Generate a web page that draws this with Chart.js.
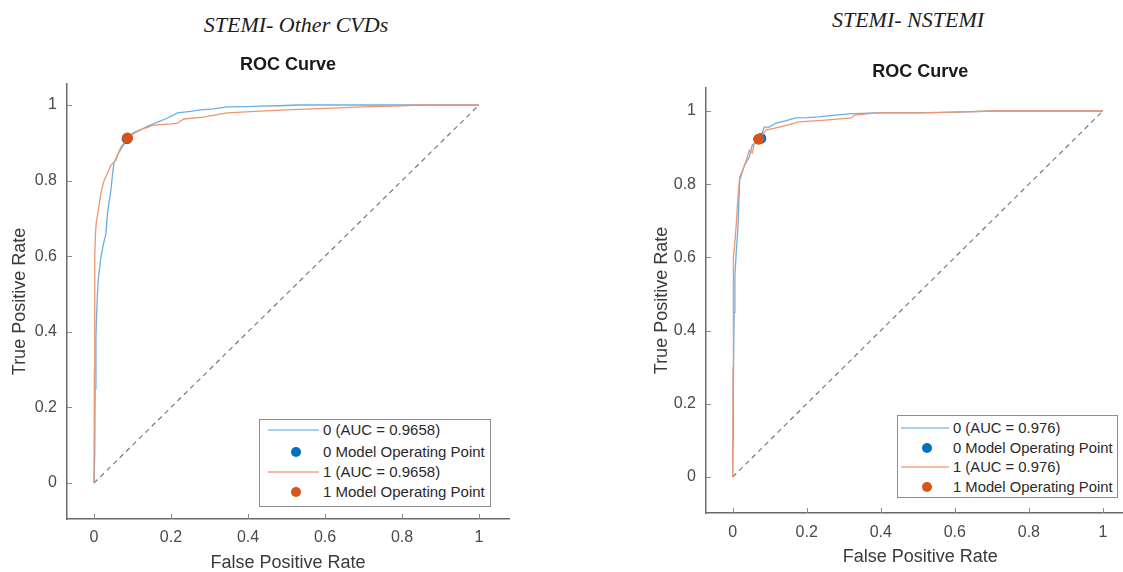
<!DOCTYPE html>
<html>
<head>
<meta charset="utf-8">
<script src="https://cdn.jsdelivr.net/npm/chart.js@4.4.1/dist/chart.umd.min.js"></script>
<style>
html,body{margin:0;padding:0;background:#fff;width:1123px;height:572px;overflow:hidden;}
body{position:relative;font-family:"Liberation Sans",Arial,sans-serif;}
canvas{position:absolute;top:0;}
.heading{position:absolute;width:400px;text-align:center;font-family:"Liberation Serif","Times New Roman",serif;font-style:italic;font-size:22px;line-height:26px;color:#1c1c24;white-space:nowrap;}
.legend{position:absolute;box-sizing:border-box;border:1px solid #8e8e8e;background:#fff;}
.legend .txt{position:absolute;white-space:nowrap;color:#2a2a2a;font-family:"Liberation Sans",Arial,sans-serif;}
.legend .ln{position:absolute;height:2px;}
.legend .dot{position:absolute;border-radius:50%;}
</style>
</head>
<body>
<div id="hA" class="heading"></div>
<div id="hB" class="heading"></div>
<canvas id="cA" width="560" height="572" style="left:0px"></canvas>
<canvas id="cB" width="500" height="572" style="left:640px"></canvas>
<div id="lgA" class="legend"></div>
<div id="lgB" class="legend"></div>
<script>
// ---------------- data ----------------
const CLASS_NAMES = ['0', '1'];
const TICK_VALUES = [0, 0.2, 0.4, 0.6, 0.8, 1];
const TICK_LABELS = ['0', '0.2', '0.4', '0.6', '0.8', '1'];
const DIAG_X = [0, 1];
const DIAG_Y = [0, 1];
const SUBTITLE = 'ROC Curve';
const X_LABEL = 'False Positive Rate';
const Y_LABEL = 'True Positive Rate';
const OP_LABEL = 'Model Operating Point';

// Panel A: STEMI- Other CVDs
const A_HEADING = 'STEMI- Other CVDs';
const A_AUC = ['0.9658', '0.9658'];
const A0_FPR = [0, 0.002, 0.003, 0.005, 0.005, 0.007, 0.009, 0.011, 0.018, 0.024, 0.031, 0.035, 0.044, 0.048, 0.052, 0.061, 0.074, 0.087, 0.10, 0.12, 0.14, 0.165, 0.19, 0.217, 0.25, 0.277, 0.31, 0.346, 0.40, 0.43, 0.48, 0.53, 1];
const A0_TPR = [0, 0.08, 0.25, 0.25, 0.386, 0.45, 0.50, 0.537, 0.598, 0.63, 0.66, 0.714, 0.775, 0.815, 0.847, 0.868, 0.89, 0.907, 0.925, 0.934, 0.944, 0.955, 0.965, 0.979, 0.983, 0.987, 0.990, 0.995, 0.996, 0.997, 0.998, 1, 1];
const A1_FPR = [0, 0.001, 0.002, 0.004, 0.006, 0.010, 0.014, 0.018, 0.026, 0.035, 0.044, 0.057, 0.062, 0.070, 0.087, 0.10, 0.12, 0.155, 0.20, 0.217, 0.233, 0.284, 0.346, 0.43, 0.50, 0.60, 0.70, 0.80, 0.85, 1];
const A1_TPR = [0, 0.30, 0.60, 0.661, 0.69, 0.714, 0.74, 0.767, 0.80, 0.82, 0.841, 0.854, 0.87, 0.889, 0.913, 0.922, 0.934, 0.947, 0.950, 0.952, 0.963, 0.968, 0.979, 0.984, 0.987, 0.991, 0.995, 0.998, 1, 1];
const A_OP_FPR = [0.086, 0.087];
const A_OP_TPR = [0.911, 0.913];

// Panel B: STEMI- NSTEMI
const B_HEADING = 'STEMI- NSTEMI';
const B_AUC = ['0.976', '0.976'];
const B0_FPR = [0, 0.001, 0.002, 0.004, 0.006, 0.010, 0.014, 0.019, 0.025, 0.032, 0.045, 0.053, 0.065, 0.075, 0.085, 0.099, 0.117, 0.14, 0.17, 0.20, 0.232, 0.27, 0.312, 0.384, 0.50, 0.60, 0.71, 1];
const B0_TPR = [0, 0.10, 0.27, 0.45, 0.55, 0.62, 0.675, 0.811, 0.83, 0.852, 0.874, 0.907, 0.915, 0.926, 0.956, 0.956, 0.967, 0.972, 0.981, 0.982, 0.984, 0.988, 0.992, 0.995, 0.995, 0.997, 1, 1];
const B1_FPR = [0, 0.001, 0.002, 0.005, 0.010, 0.014, 0.019, 0.028, 0.037, 0.045, 0.053, 0.059, 0.070, 0.075, 0.09, 0.117, 0.15, 0.179, 0.25, 0.32, 0.33, 0.39, 0.50, 0.60, 0.70, 1];
const B1_TPR = [0, 0.30, 0.60, 0.628, 0.694, 0.76, 0.82, 0.84, 0.866, 0.893, 0.885, 0.913, 0.923, 0.93, 0.948, 0.954, 0.962, 0.97, 0.975, 0.981, 0.989, 0.995, 0.995, 0.997, 1, 1];
const B_OP_FPR = [0.076, 0.070];
const B_OP_TPR = [0.925, 0.923];

// ---------------- styles / layout ----------------
const SANS = '"Liberation Sans", Arial, sans-serif';
const LINE_COLORS = ['#68afe2', '#f0956f'];
const LEGEND_LINE_COLORS = ['#a6d0ef', '#f6bca4'];
const DOT_COLORS = ['#0072BD', '#D95319'];
const AXIS_COLOR = '#6a6a6a';
const TICK_COLOR = '#4a4a4a';

const LAYOUT_A = {
  canvas: 'cA', heading: 'hA', headX: 296, headY: 25,
  xmin: -0.0701, xmax: 1.0779, ymin: -0.0952, ymax: 1.0556,
  yW: 67, xH: 53, padRight: 51,
  subPad: {top: 54.2, bottom: 8.2},
  yTitlePad: 11, xTitlePad: 0, xTickPad: 9, yTickPad: 10,
  legend: {el: 'lgA', left: 259, top: 419, w: 232, h: 88, rows: [11, 33, 53, 73], line: [8, 59], dotX: 36, textX: 63, font: 15}
};
const LAYOUT_B = {
  canvas: 'cB', heading: 'hB', headX: 908, headY: 20,
  xmin: -0.072, xmax: 1.0853, ymin: -0.0984, ymax: 1.0628,
  yW: 66, xH: 59, padRight: 0,
  subPad: {top: 61.2, bottom: 5.2},
  yTitlePad: 13, xTitlePad: 6, xTickPad: 10, yTickPad: 10,
  legend: {el: 'lgB', left: 897, top: 415, w: 221, h: 83, rows: [13, 33, 52, 72], line: [3, 51], dotX: 29, textX: 55, font: 14.8}
};

const zip = (xs, ys) => xs.map((x, i) => ({x: x, y: ys[i]}));
const labelFor = v => { const i = TICK_VALUES.indexOf(v); return i >= 0 ? TICK_LABELS[i] : ''; };
const zeroPad = s => { s.paddingTop = 0; s.paddingBottom = 0; s.paddingLeft = 0; s.paddingRight = 0; };

const innerTicks = {
  id: 'innerTicks',
  afterDraw(chart) {
    const {ctx, chartArea: a, scales: {x, y}} = chart;
    ctx.save();
    ctx.strokeStyle = '#8a8a8a';
    ctx.lineWidth = 1;
    ctx.beginPath();
    x.ticks.forEach(t => { const px = Math.round(x.getPixelForValue(t.value)) + 0.5; ctx.moveTo(px, a.bottom); ctx.lineTo(px, a.bottom - 5); });
    y.ticks.forEach(t => { const py = Math.round(y.getPixelForValue(t.value)) + 0.5; ctx.moveTo(a.left, py); ctx.lineTo(a.left + 5, py); });
    ctx.stroke();
    ctx.restore();
  }
};

function buildPanel(L, heading, auc, f0, t0, f1, t1, opF, opT) {
  const h = document.getElementById(L.heading);
  h.textContent = heading;
  h.style.left = (L.headX - 200) + 'px';
  h.style.top = (L.headY - 13) + 'px';

  const datasets = [
    {label: 'chance', data: zip(DIAG_X, DIAG_Y), showLine: true, borderColor: '#7a7a7a', borderWidth: 1.2, borderDash: [5, 4], pointRadius: 0, order: 5},
    {label: CLASS_NAMES[0] + ' (AUC = ' + auc[0] + ')', data: zip(f0, t0), showLine: true, borderColor: LINE_COLORS[0], borderWidth: 1.3, pointRadius: 0, order: 4, legendColor: LEGEND_LINE_COLORS[0]},
    {label: CLASS_NAMES[0] + ' ' + OP_LABEL, data: [{x: opF[0], y: opT[0]}], showLine: false, pointRadius: 5.5, backgroundColor: DOT_COLORS[0], borderWidth: 0, order: 3},
    {label: CLASS_NAMES[1] + ' (AUC = ' + auc[1] + ')', data: zip(f1, t1), showLine: true, borderColor: LINE_COLORS[1], borderWidth: 1.3, pointRadius: 0, order: 2, legendColor: LEGEND_LINE_COLORS[1]},
    {label: CLASS_NAMES[1] + ' ' + OP_LABEL, data: [{x: opF[1], y: opT[1]}], showLine: false, pointRadius: 5.5, backgroundColor: DOT_COLORS[1], borderWidth: 0, order: 1}
  ];

  new Chart(document.getElementById(L.canvas), {
    type: 'scatter',
    data: {datasets: datasets},
    options: {
      responsive: false, animation: false, events: [],
      layout: {padding: {left: 0, right: L.padRight, top: 0, bottom: 0}},
      plugins: {
        legend: {display: false}, tooltip: {enabled: false},
        title: {display: true, text: SUBTITLE, fullSize: false, color: '#1a1a1a',
          font: {family: SANS, size: 18, weight: 'bold'}, padding: L.subPad}
      },
      scales: {
        x: {
          type: 'linear', position: 'bottom', min: L.xmin, max: L.xmax,
          grid: {display: false, drawTicks: false},
          border: {display: true, color: AXIS_COLOR, width: 1.5},
          ticks: {padding: L.xTickPad, color: TICK_COLOR, font: {family: SANS, size: 16}, maxRotation: 0, callback: v => labelFor(v)},
          afterBuildTicks: s => { s.ticks = TICK_VALUES.map(v => ({value: v})); },
          afterFit: s => { s.height = L.xH; zeroPad(s); },
          title: {display: true, text: X_LABEL, color: '#3a3a3a', font: {family: SANS, size: 18, lineHeight: 1}, padding: {top: 0, bottom: L.xTitlePad}}
        },
        y: {
          type: 'linear', position: 'left', min: L.ymin, max: L.ymax,
          grid: {display: false, drawTicks: false},
          border: {display: true, color: AXIS_COLOR, width: 1.5},
          ticks: {padding: L.yTickPad, color: TICK_COLOR, font: {family: SANS, size: 16}, callback: v => labelFor(v)},
          afterBuildTicks: s => { s.ticks = TICK_VALUES.map(v => ({value: v})); },
          afterFit: s => { s.width = L.yW; zeroPad(s); },
          title: {display: true, text: Y_LABEL, color: '#3a3a3a', font: {family: SANS, size: 18, lineHeight: 1}, padding: {top: L.yTitlePad, bottom: 0}}
        }
      }
    },
    plugins: [innerTicks]
  });

  // legend (HTML) built from the same dataset labels / colours
  const G = L.legend;
  const box = document.getElementById(G.el);
  box.style.left = G.left + 'px'; box.style.top = G.top + 'px';
  box.style.width = G.w + 'px'; box.style.height = G.h + 'px';
  const entries = [datasets[1], datasets[2], datasets[3], datasets[4]];
  entries.forEach((ds, i) => {
    const cy = G.rows[i] - 1;
    if (ds.showLine) {
      const ln = document.createElement('div');
      ln.className = 'ln';
      ln.style.left = G.line[0] + 'px';
      ln.style.width = (G.line[1] - G.line[0]) + 'px';
      ln.style.top = (cy - 1) + 'px';
      ln.style.backgroundColor = ds.legendColor;
      box.appendChild(ln);
    } else {
      const d = document.createElement('div');
      d.className = 'dot';
      const r = 5;
      d.style.left = (G.dotX - r) + 'px'; d.style.top = (cy - r) + 'px';
      d.style.width = (2 * r) + 'px'; d.style.height = (2 * r) + 'px';
      d.style.backgroundColor = ds.backgroundColor;
      box.appendChild(d);
    }
    const t = document.createElement('div');
    t.className = 'txt';
    t.textContent = ds.label;
    t.style.left = G.textX + 'px';
    t.style.fontSize = G.font + 'px';
    t.style.lineHeight = '20px';
    t.style.top = (cy - 10) + 'px';
    box.appendChild(t);
  });
}

buildPanel(LAYOUT_A, A_HEADING, A_AUC, A0_FPR, A0_TPR, A1_FPR, A1_TPR, A_OP_FPR, A_OP_TPR);
buildPanel(LAYOUT_B, B_HEADING, B_AUC, B0_FPR, B0_TPR, B1_FPR, B1_TPR, B_OP_FPR, B_OP_TPR);
</script>
</body>
</html>
